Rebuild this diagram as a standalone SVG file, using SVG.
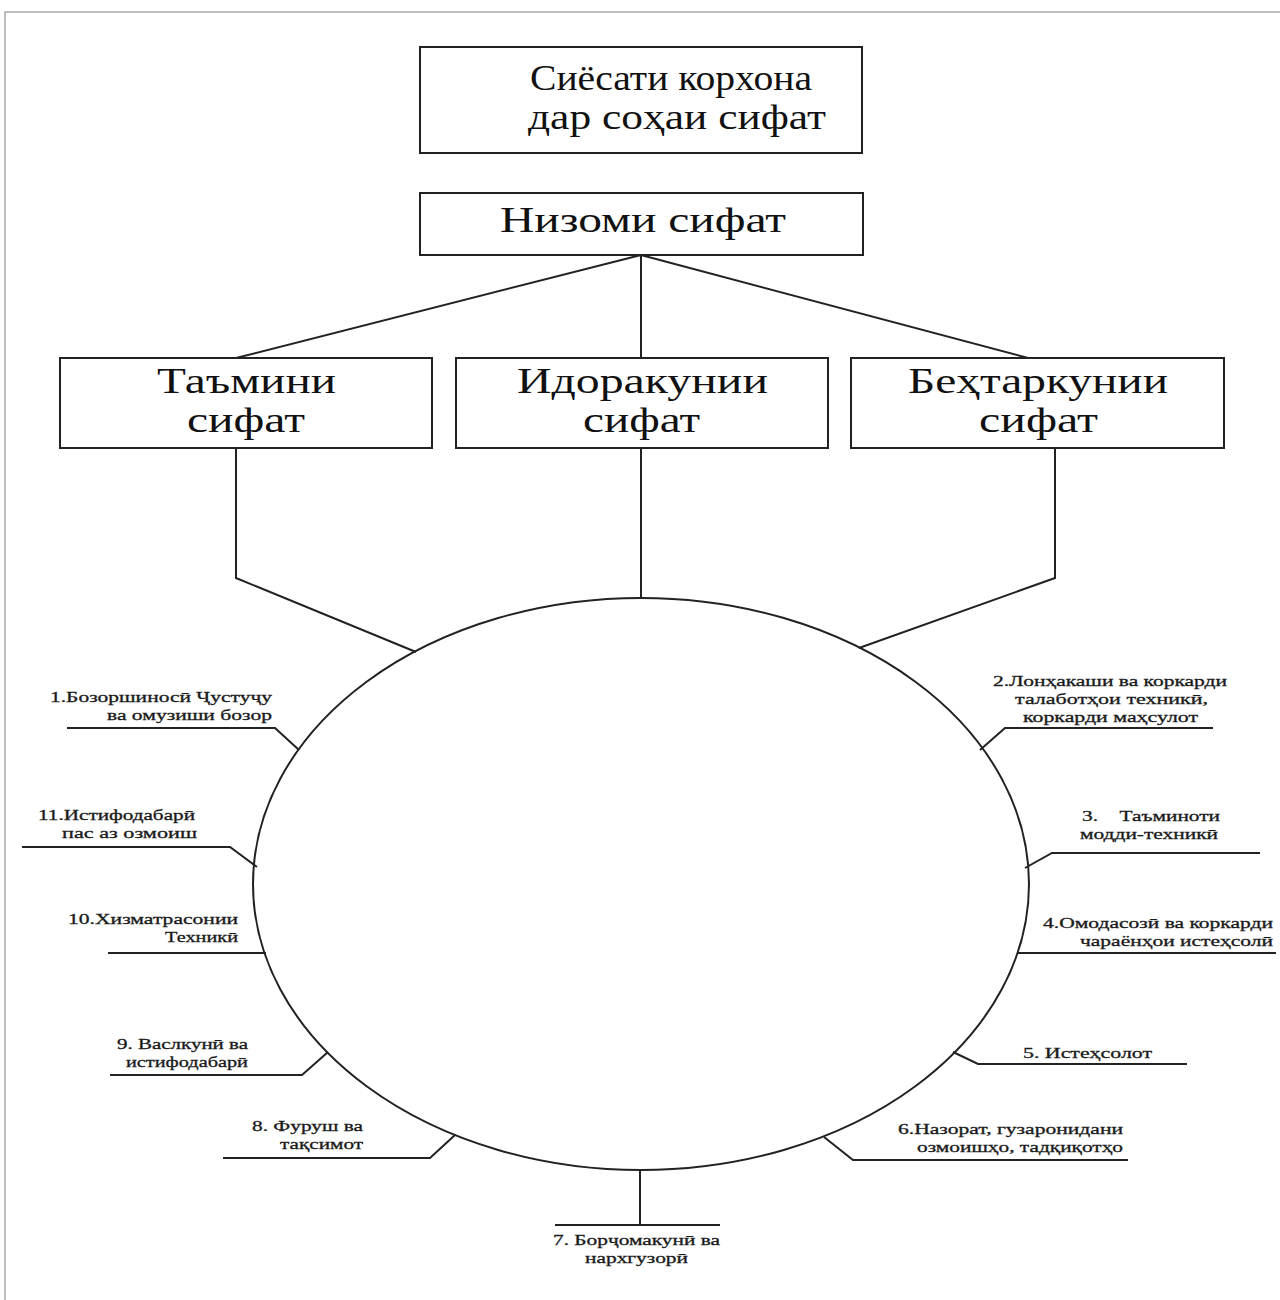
<svg xmlns="http://www.w3.org/2000/svg" width="1280" height="1300" viewBox="0 0 1280 1300">
<style>
.box{fill:#fff;stroke:#222;stroke-width:2}
.ln{fill:none;stroke:#222;stroke-width:2}
.big{font-family:"Liberation Serif","DejaVu Serif",serif;font-size:36px;fill:#111}
.lb{font-family:"Liberation Serif","DejaVu Serif",serif;font-size:15px;fill:#1a1a1a;stroke:#1a1a1a;stroke-width:0.3;white-space:pre}
</style>
<rect width="1280" height="1300" fill="#fff"/>
<path d="M5,1300 V12 H1280" fill="none" stroke="#aaa" stroke-width="1.5"/>
<g id="connectors">
<path class="ln" d="M641,255 L236,358 M641,255 V358 M641,255 L1028,358"/>
<path class="ln" d="M236,448 V578 L416,652"/>
<path class="ln" d="M641,448 V598"/>
<path class="ln" d="M1055,448 V578 L859,648"/>
<path class="ln" d="M67,728 H275 L299,750"/>
<path class="ln" d="M1213,728 H1005 L980,750"/>
<path class="ln" d="M1260,853 H1052 L1025,868"/>
<path class="ln" d="M22,847 H230 L257,867"/>
<path class="ln" d="M108,953 H266"/>
<path class="ln" d="M1017,953 H1276"/>
<path class="ln" d="M110,1075 H302 L328,1052"/>
<path class="ln" d="M1187,1064 H978 L953,1052"/>
<path class="ln" d="M223,1158 H430 L455,1135"/>
<path class="ln" d="M1128,1160 H853 L824,1137"/>
<path class="ln" d="M640,1170 V1225 M555,1225 H720"/>
</g>
<g id="policy">
<rect class="box" x="420" y="47" width="442" height="106"/>
<text class="big" x="530" y="90" textLength="282" lengthAdjust="spacingAndGlyphs">Сиёсати корхона</text>
<text class="big" x="528" y="129" textLength="298" lengthAdjust="spacingAndGlyphs">дар соҳаи сифат</text>
</g>
<g id="system">
<rect class="box" x="420" y="193" width="443" height="62"/>
<text class="big" x="500" y="232" textLength="286" lengthAdjust="spacingAndGlyphs">Низоми сифат</text>
</g>
<g id="assurance">
<rect class="box" x="60" y="358" width="372" height="90"/>
<text class="big" x="157" y="393" textLength="179" lengthAdjust="spacingAndGlyphs">Таъмини</text>
<text class="big" x="187" y="432" textLength="118" lengthAdjust="spacingAndGlyphs">сифат</text>
</g>
<g id="management">
<rect class="box" x="456" y="358" width="372" height="90"/>
<text class="big" x="517" y="393" textLength="251" lengthAdjust="spacingAndGlyphs">Идоракунии</text>
<text class="big" x="583" y="432" textLength="117" lengthAdjust="spacingAndGlyphs">сифат</text>
</g>
<g id="improvement">
<rect class="box" x="851" y="358" width="373" height="90"/>
<text class="big" x="908" y="393" textLength="260" lengthAdjust="spacingAndGlyphs">Беҳтаркунии</text>
<text class="big" x="979" y="432" textLength="119" lengthAdjust="spacingAndGlyphs">сифат</text>
</g>
<g id="cycle">
<ellipse cx="641" cy="884" rx="388" ry="286" fill="none" stroke="#222" stroke-width="2"/>
</g>
<g id="stage1">
<text class="lb" x="50" y="702" textLength="222" lengthAdjust="spacingAndGlyphs">1.Бозоршиносӣ Ҷустуҷу</text>
<text class="lb" x="107" y="720" textLength="165" lengthAdjust="spacingAndGlyphs">ва омузиши бозор</text>
</g>
<g id="stage2">
<text class="lb" x="993" y="686" textLength="234" lengthAdjust="spacingAndGlyphs">2.Лонҳакаши ва коркарди</text>
<text class="lb" x="1015" y="704" textLength="193" lengthAdjust="spacingAndGlyphs">талаботҳои техникӣ,</text>
<text class="lb" x="1023" y="722" textLength="175" lengthAdjust="spacingAndGlyphs">коркарди маҳсулот</text>
</g>
<g id="stage3">
<text class="lb" x="1082" y="821" textLength="138" lengthAdjust="spacingAndGlyphs">3.    Таъминоти</text>
<text class="lb" x="1080" y="839" textLength="138" lengthAdjust="spacingAndGlyphs">модди-техникӣ</text>
</g>
<g id="stage4">
<text class="lb" x="1043" y="928" textLength="230" lengthAdjust="spacingAndGlyphs">4.Омодасозӣ ва коркарди</text>
<text class="lb" x="1080" y="946" textLength="193" lengthAdjust="spacingAndGlyphs">чараёнҳои истеҳсолӣ</text>
</g>
<g id="stage5">
<text class="lb" x="1023" y="1058" textLength="129" lengthAdjust="spacingAndGlyphs">5. Истеҳсолот</text>
</g>
<g id="stage6">
<text class="lb" x="898" y="1134" textLength="225" lengthAdjust="spacingAndGlyphs">6.Назорат, гузаронидани</text>
<text class="lb" x="917" y="1152" textLength="206" lengthAdjust="spacingAndGlyphs">озмоишҳо, тадқиқотҳо</text>
</g>
<g id="stage7">
<text class="lb" x="553" y="1245" textLength="167" lengthAdjust="spacingAndGlyphs">7. Борҷомакунӣ ва</text>
<text class="lb" x="585" y="1263" textLength="103" lengthAdjust="spacingAndGlyphs">нархгузорӣ</text>
</g>
<g id="stage8">
<text class="lb" x="252" y="1131" textLength="111" lengthAdjust="spacingAndGlyphs">8. Фуруш ва</text>
<text class="lb" x="280" y="1149" textLength="83" lengthAdjust="spacingAndGlyphs">тақсимот</text>
</g>
<g id="stage9">
<text class="lb" x="117" y="1049" textLength="131" lengthAdjust="spacingAndGlyphs">9. Васлкунӣ ва</text>
<text class="lb" x="126" y="1067" textLength="122" lengthAdjust="spacingAndGlyphs">истифодабарӣ</text>
</g>
<g id="stage10">
<text class="lb" x="68" y="924" textLength="170" lengthAdjust="spacingAndGlyphs">10.Хизматрасонии</text>
<text class="lb" x="165" y="942" textLength="73" lengthAdjust="spacingAndGlyphs">Техникӣ</text>
</g>
<g id="stage11">
<text class="lb" x="38" y="820" textLength="157" lengthAdjust="spacingAndGlyphs">11.Истифодабарӣ</text>
<text class="lb" x="62" y="838" textLength="135" lengthAdjust="spacingAndGlyphs">пас аз озмоиш</text>
</g>
</svg>
